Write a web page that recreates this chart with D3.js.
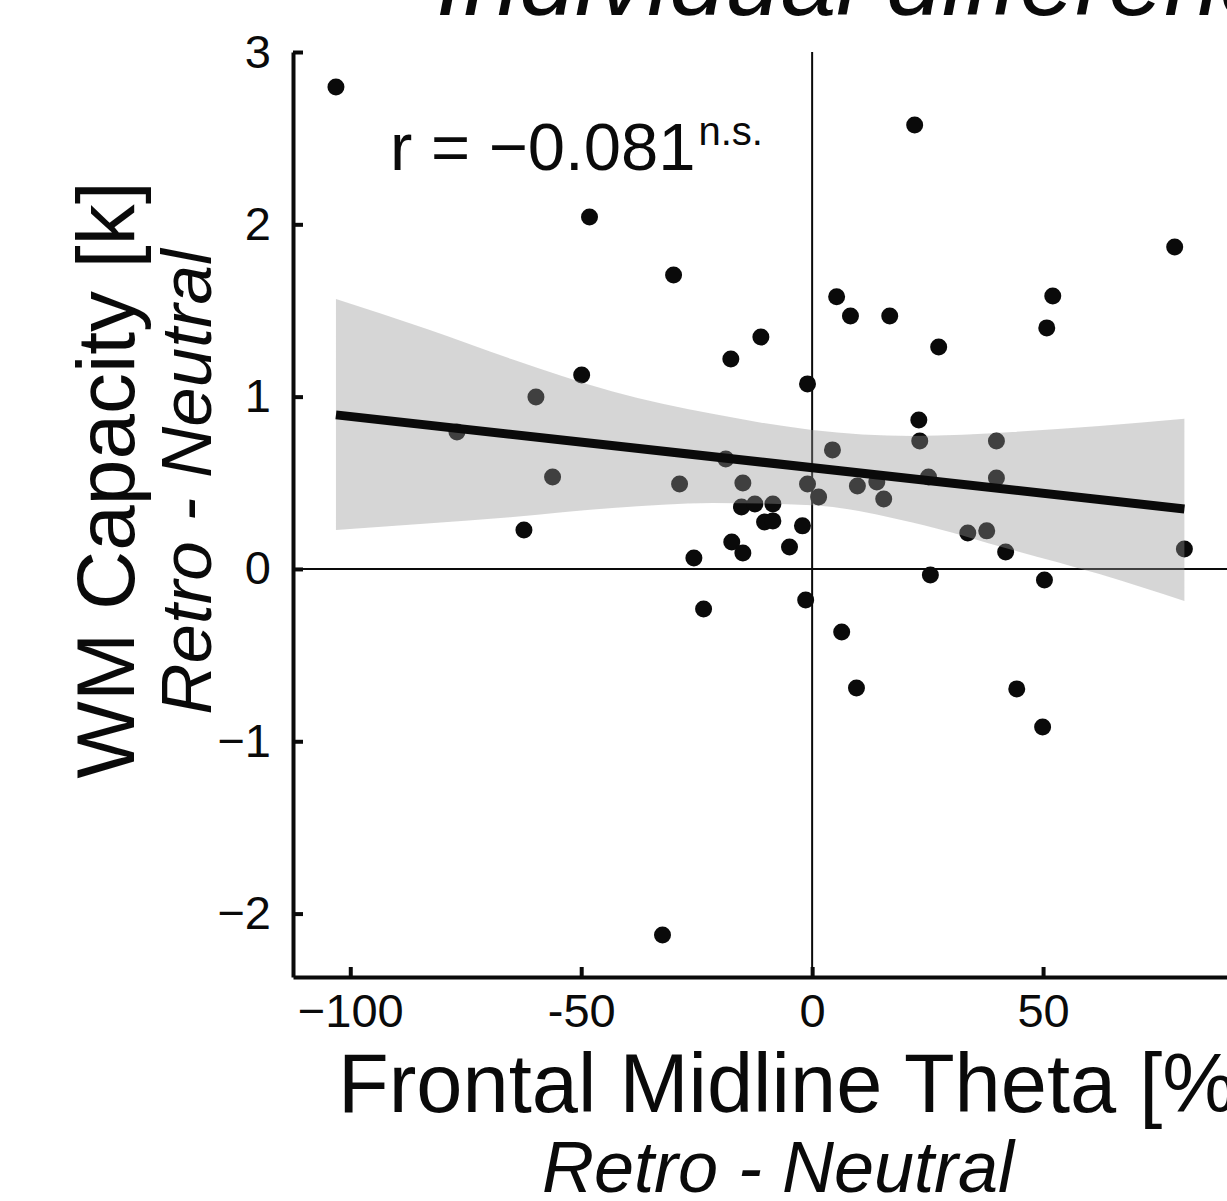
<!DOCTYPE html>
<html lang="en">

<head>
    <meta charset="UTF-8">
    <title>Individual differences</title>
    <script src="https://d3js.org/d3.v7.min.js"></script>
    <style>
        body {
            margin: 0;
            background: #fff;
        }

        svg text {
            font-family: "Liberation Sans", Arial, Helvetica, sans-serif;
            fill: #0a0a0a;
        }
    </style>
</head>

<body>
    <svg width="1227" height="1201" id="chart"></svg>

    <script>
        const svg = d3.select("#chart");

        // Frontal midline theta (retro - neutral, %) per participant
        const thetaValues = [
            -103.1, 22.2, -48.2, 78.5, -30.0, 5.3, 52.1, 8.3, 16.8, 50.8,
            -11.1, 27.4, -17.6, -49.9, -1.0, -59.8, -76.9, 23.1, 23.3, 39.9,
            4.4, -18.7, -56.2, -28.7, -15.0, 25.2, 39.9, -1.0, 9.8, 14.0,
            1.4, 15.5, -62.4, -15.3, -12.4, -8.5, -10.3, -8.5, -2.1, -17.4,
            -15.0, -25.6, -4.9, -1.4, -23.5, 33.7, 37.8, 41.9, 80.6, 25.6,
            50.3, 6.4, 9.6, 44.3, 49.9, -32.4
        ];
        // WM capacity k (retro - neutral), same order
        const capacityValues = [
            2.797, 2.577, 2.043, 1.869, 1.706, 1.579, 1.584, 1.468, 1.468, 1.399,
            1.346, 1.288, 1.219, 1.126, 1.074, 0.998, 0.795, 0.865, 0.743, 0.743,
            0.691, 0.638, 0.534, 0.493, 0.499, 0.534, 0.528, 0.493, 0.482, 0.505,
            0.418, 0.406, 0.226, 0.360, 0.377, 0.377, 0.273, 0.279, 0.250, 0.157,
            0.093, 0.064, 0.128, -0.180, -0.232, 0.209, 0.221, 0.099, 0.116, -0.035,
            -0.064, -0.366, -0.691, -0.696, -0.917, -2.124
        ];

        // regression line end points
        const fitX = [-103.1, 80.6];
        const fitY = [0.894, 0.348];

        // confidence band
        const bandX = [-103.1, -83.4, -64.8, -43.2, -21.6, 0, 21.7, 43.4, 62.2, 80.6];
        const bandHi = [1.567, 1.392, 1.215, 1.030, 0.900, 0.807, 0.772, 0.795, 0.830, 0.871];
        const bandLo = [0.226, 0.264, 0.302, 0.354, 0.383, 0.370, 0.270, 0.110, -0.030, -0.186];

        const xTicks = [-100, -50, 0, 50];
        const xTickLabels = ["\u2212100", "-50", "0", "50"];
        const yTicks = [-2, -1, 0, 1, 2, 3];
        const yTickLabels = ["\u22122", "\u22121", "0", "1", "2", "3"];

        const plotLeft = 293, plotRight = 1274, plotTop = 52, plotBottom = 977;

        const x = d3.scaleLinear().domain([-112.4, 100]).range([plotLeft, plotRight]);
        const y = d3.scaleLinear().domain([-2.368, 3]).range([plotBottom, plotTop]);

        // title, cut off at the top of the picture
        svg.append("text")
            .attr("x", 436)
            .attr("y", 15)
            .attr("font-size", 100)
            .attr("font-style", "italic")
            .text("Individual differences");

        // zero lines
        svg.append("line")
            .attr("x1", plotLeft).attr("x2", plotRight)
            .attr("y1", y(0)).attr("y2", y(0))
            .attr("stroke", "#0a0a0a").attr("stroke-width", 2);
        svg.append("line")
            .attr("x1", x(0)).attr("x2", x(0))
            .attr("y1", plotTop).attr("y2", plotBottom)
            .attr("stroke", "#0a0a0a").attr("stroke-width", 2);

        const points = thetaValues.map((v, i) => ({ theta: v, k: capacityValues[i] }));

        svg.append("g")
            .selectAll("circle")
            .data(points)
            .enter().append("circle")
            .attr("cx", d => x(d.theta))
            .attr("cy", d => y(d.k))
            .attr("r", 8.5)
            .attr("fill", "#0a0a0a");

        // band is semi transparent so the dots underneath show grey
        const band = bandX.map((v, i) => ({ x: v, lo: bandLo[i], hi: bandHi[i] }));
        svg.append("path")
            .datum(band)
            .attr("d", d3.area()
                .x(d => x(d.x))
                .y0(d => y(d.lo))
                .y1(d => y(d.hi))
                .curve(d3.curveMonotoneX))
            .attr("fill", "rgb(149,149,149)")
            .attr("fill-opacity", 0.39);

        svg.append("line")
            .attr("x1", x(fitX[0])).attr("y1", y(fitY[0]))
            .attr("x2", x(fitX[1])).attr("y2", y(fitY[1]))
            .attr("stroke", "#0a0a0a")
            .attr("stroke-width", 9);

        // axes, ticks point inwards
        const xAxis = svg.append("g")
            .attr("transform", `translate(0,${plotBottom})`)
            .call(d3.axisBottom(x)
                .tickValues(xTicks)
                .tickFormat((d, i) => xTickLabels[i])
                .tickSizeInner(-10)
                .tickSizeOuter(0)
                .tickPadding(17));

        const yAxis = svg.append("g")
            .attr("transform", `translate(${plotLeft},0)`)
            .call(d3.axisLeft(y)
                .tickValues(yTicks)
                .tickFormat((d, i) => yTickLabels[i])
                .tickSizeInner(-10)
                .tickSizeOuter(0)
                .tickPadding(22));

        [xAxis, yAxis].forEach(a => {
            a.select(".domain").attr("stroke", "#0a0a0a").attr("stroke-width", 4);
            a.selectAll(".tick line").attr("stroke", "#0a0a0a").attr("stroke-width", 4);
            a.selectAll(".tick text")
                .attr("font-size", 47)
                .attr("font-family", "'Liberation Sans', Arial, sans-serif")
                .attr("fill", "#0a0a0a");
        });

        // r annotation
        const rText = svg.append("text")
            .attr("x", 390)
            .attr("y", 170)
            .attr("font-size", 67);
        rText.append("tspan").text("r = \u22120.081");
        rText.append("tspan")
            .attr("font-size", 40)
            .attr("dx", 3)
            .attr("dy", -25)
            .text("n.s.");

        // axis labels
        svg.append("text")
            .attr("x", 338)
            .attr("y", 1112)
            .attr("font-size", 83)
            .text("Frontal Midline Theta [%]");
        svg.append("text")
            .attr("x", 778)
            .attr("y", 1192)
            .attr("text-anchor", "middle")
            .attr("font-size", 72)
            .attr("font-style", "italic")
            .text("Retro - Neutral");

        svg.append("text")
            .attr("transform", "translate(134,480) rotate(-90)")
            .attr("text-anchor", "middle")
            .attr("font-size", 82)
            .text("WM Capacity [k]");
        svg.append("text")
            .attr("transform", "translate(211,482) rotate(-90)")
            .attr("text-anchor", "middle")
            .attr("font-size", 71)
            .attr("font-style", "italic")
            .text("Retro - Neutral");
    </script>
</body>

</html>
